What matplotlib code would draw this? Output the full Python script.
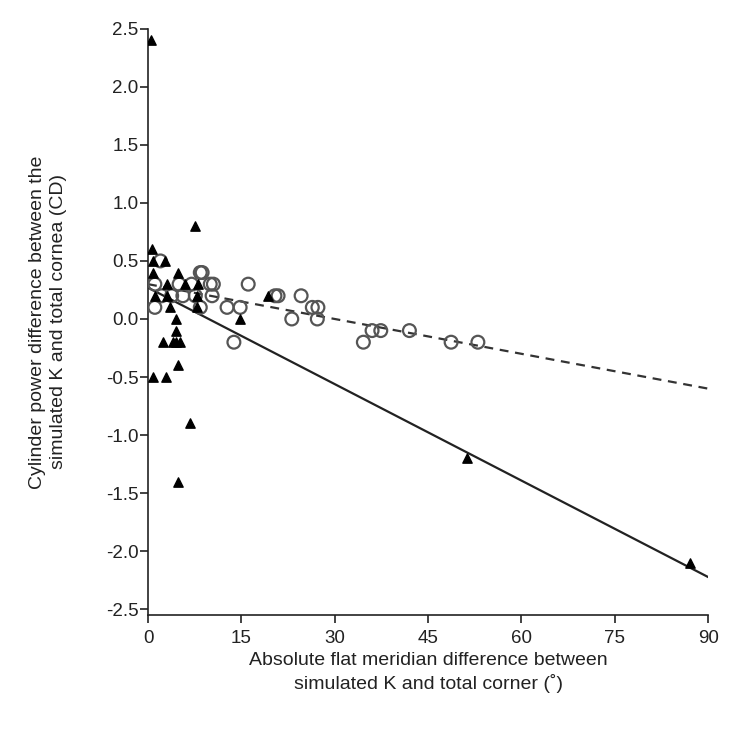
import numpy as np
import matplotlib
matplotlib.use('Agg')
import matplotlib.pyplot as plt

plt.rcParams['font.family'] = ['Liberation Sans', 'DejaVu Sans']

# open circles (dashed fit)
circle_x = [1.1, 1.1, 2.0, 2.2, 3.8, 5.0, 5.6, 7.0, 7.6, 8.4, 8.7, 8.4, 10.0, 10.5,
            10.3, 12.7, 13.8, 14.8, 16.1, 20.4, 20.9, 23.1, 24.6, 26.4, 27.3, 27.2,
            34.6, 36.0, 37.4, 42.0, 48.7, 53.0]
circle_y = [0.3, 0.1, 0.5, 0.2, 0.2, 0.3, 0.2, 0.3, 0.2, 0.4, 0.4, 0.1, 0.3, 0.3,
            0.2, 0.1, -0.2, 0.1, 0.3, 0.2, 0.2, 0.0, 0.2, 0.1, 0.1, 0.0,
            -0.2, -0.1, -0.1, -0.1, -0.2, -0.2]

# filled triangles (solid fit)
tri_x = [0.5, 0.6, 0.8, 2.8, 0.8, 4.8, 7.6, 3.1, 6.0, 8.0, 1.1, 3.1, 7.9, 3.5, 7.9,
         4.5, 14.8, 4.5, 2.4, 4.0, 4.5, 5.1, 4.8, 0.8, 2.9, 6.8, 4.8, 19.3, 51.3, 87.0]
tri_y = [2.4, 0.6, 0.5, 0.5, 0.4, 0.4, 0.8, 0.3, 0.3, 0.3, 0.2, 0.2, 0.2, 0.1, 0.1,
         0.0, 0.0, -0.1, -0.2, -0.2, -0.2, -0.2, -0.4, -0.5, -0.5, -0.9, -1.4, 0.2, -1.2, -2.1]

# regression lines (intercept, slope)
solid_fit = (0.27, -0.0277)
dashed_fit = (0.30, -0.0100)

xticks = [0, 15, 30, 45, 60, 75, 90]
yticks = [2.5, 2.0, 1.5, 1.0, 0.5, 0.0, -0.5, -1.0, -1.5, -2.0, -2.5]

fig = plt.figure(figsize=(7.4, 7.37), dpi=100)
ax = fig.add_axes([0.2, 0.1655, 0.757, 0.7955])

xl = np.array([0, 90])
ax.plot(xl, solid_fit[0] + solid_fit[1] * xl, color='#222222', lw=1.6, zorder=2)
ax.plot(xl, dashed_fit[0] + dashed_fit[1] * xl, color='#333333', lw=1.6,
        ls=(0, (4, 3)), zorder=2)

ax.scatter(circle_x, circle_y, s=85, facecolors='none', edgecolors='#555555',
           linewidths=1.6, zorder=3)
ax.scatter(tri_x, tri_y, s=45, marker='^', color='black', zorder=4)

ax.set_xlim(0, 90)
ax.set_ylim(-2.55, 2.5)
ax.set_xticks(xticks)
ax.set_yticks(yticks)
ax.set_yticklabels(['%.1f' % v for v in yticks])
ax.spines['top'].set_visible(False)
ax.spines['right'].set_visible(False)
for s in ['left', 'bottom']:
    ax.spines[s].set_linewidth(1.2)
    ax.spines[s].set_color('#222222')
ax.tick_params(direction='out', length=6, width=1.2, colors='#222222',
               labelsize=13.5)
ax.tick_params(axis='x', pad=4.5)
ax.tick_params(axis='y', pad=1)

ax.set_xlabel('Absolute flat meridian difference between\nsimulated K and total corner (˚)',
              fontsize=14, color='#222222', labelpad=4, linespacing=1.35)
ax.set_ylabel('Cylinder power difference between the\nsimulated K and total cornea (CD)',
              fontsize=14, color='#222222', labelpad=28, linespacing=1.3)

plt.savefig('out.png', dpi=100)
